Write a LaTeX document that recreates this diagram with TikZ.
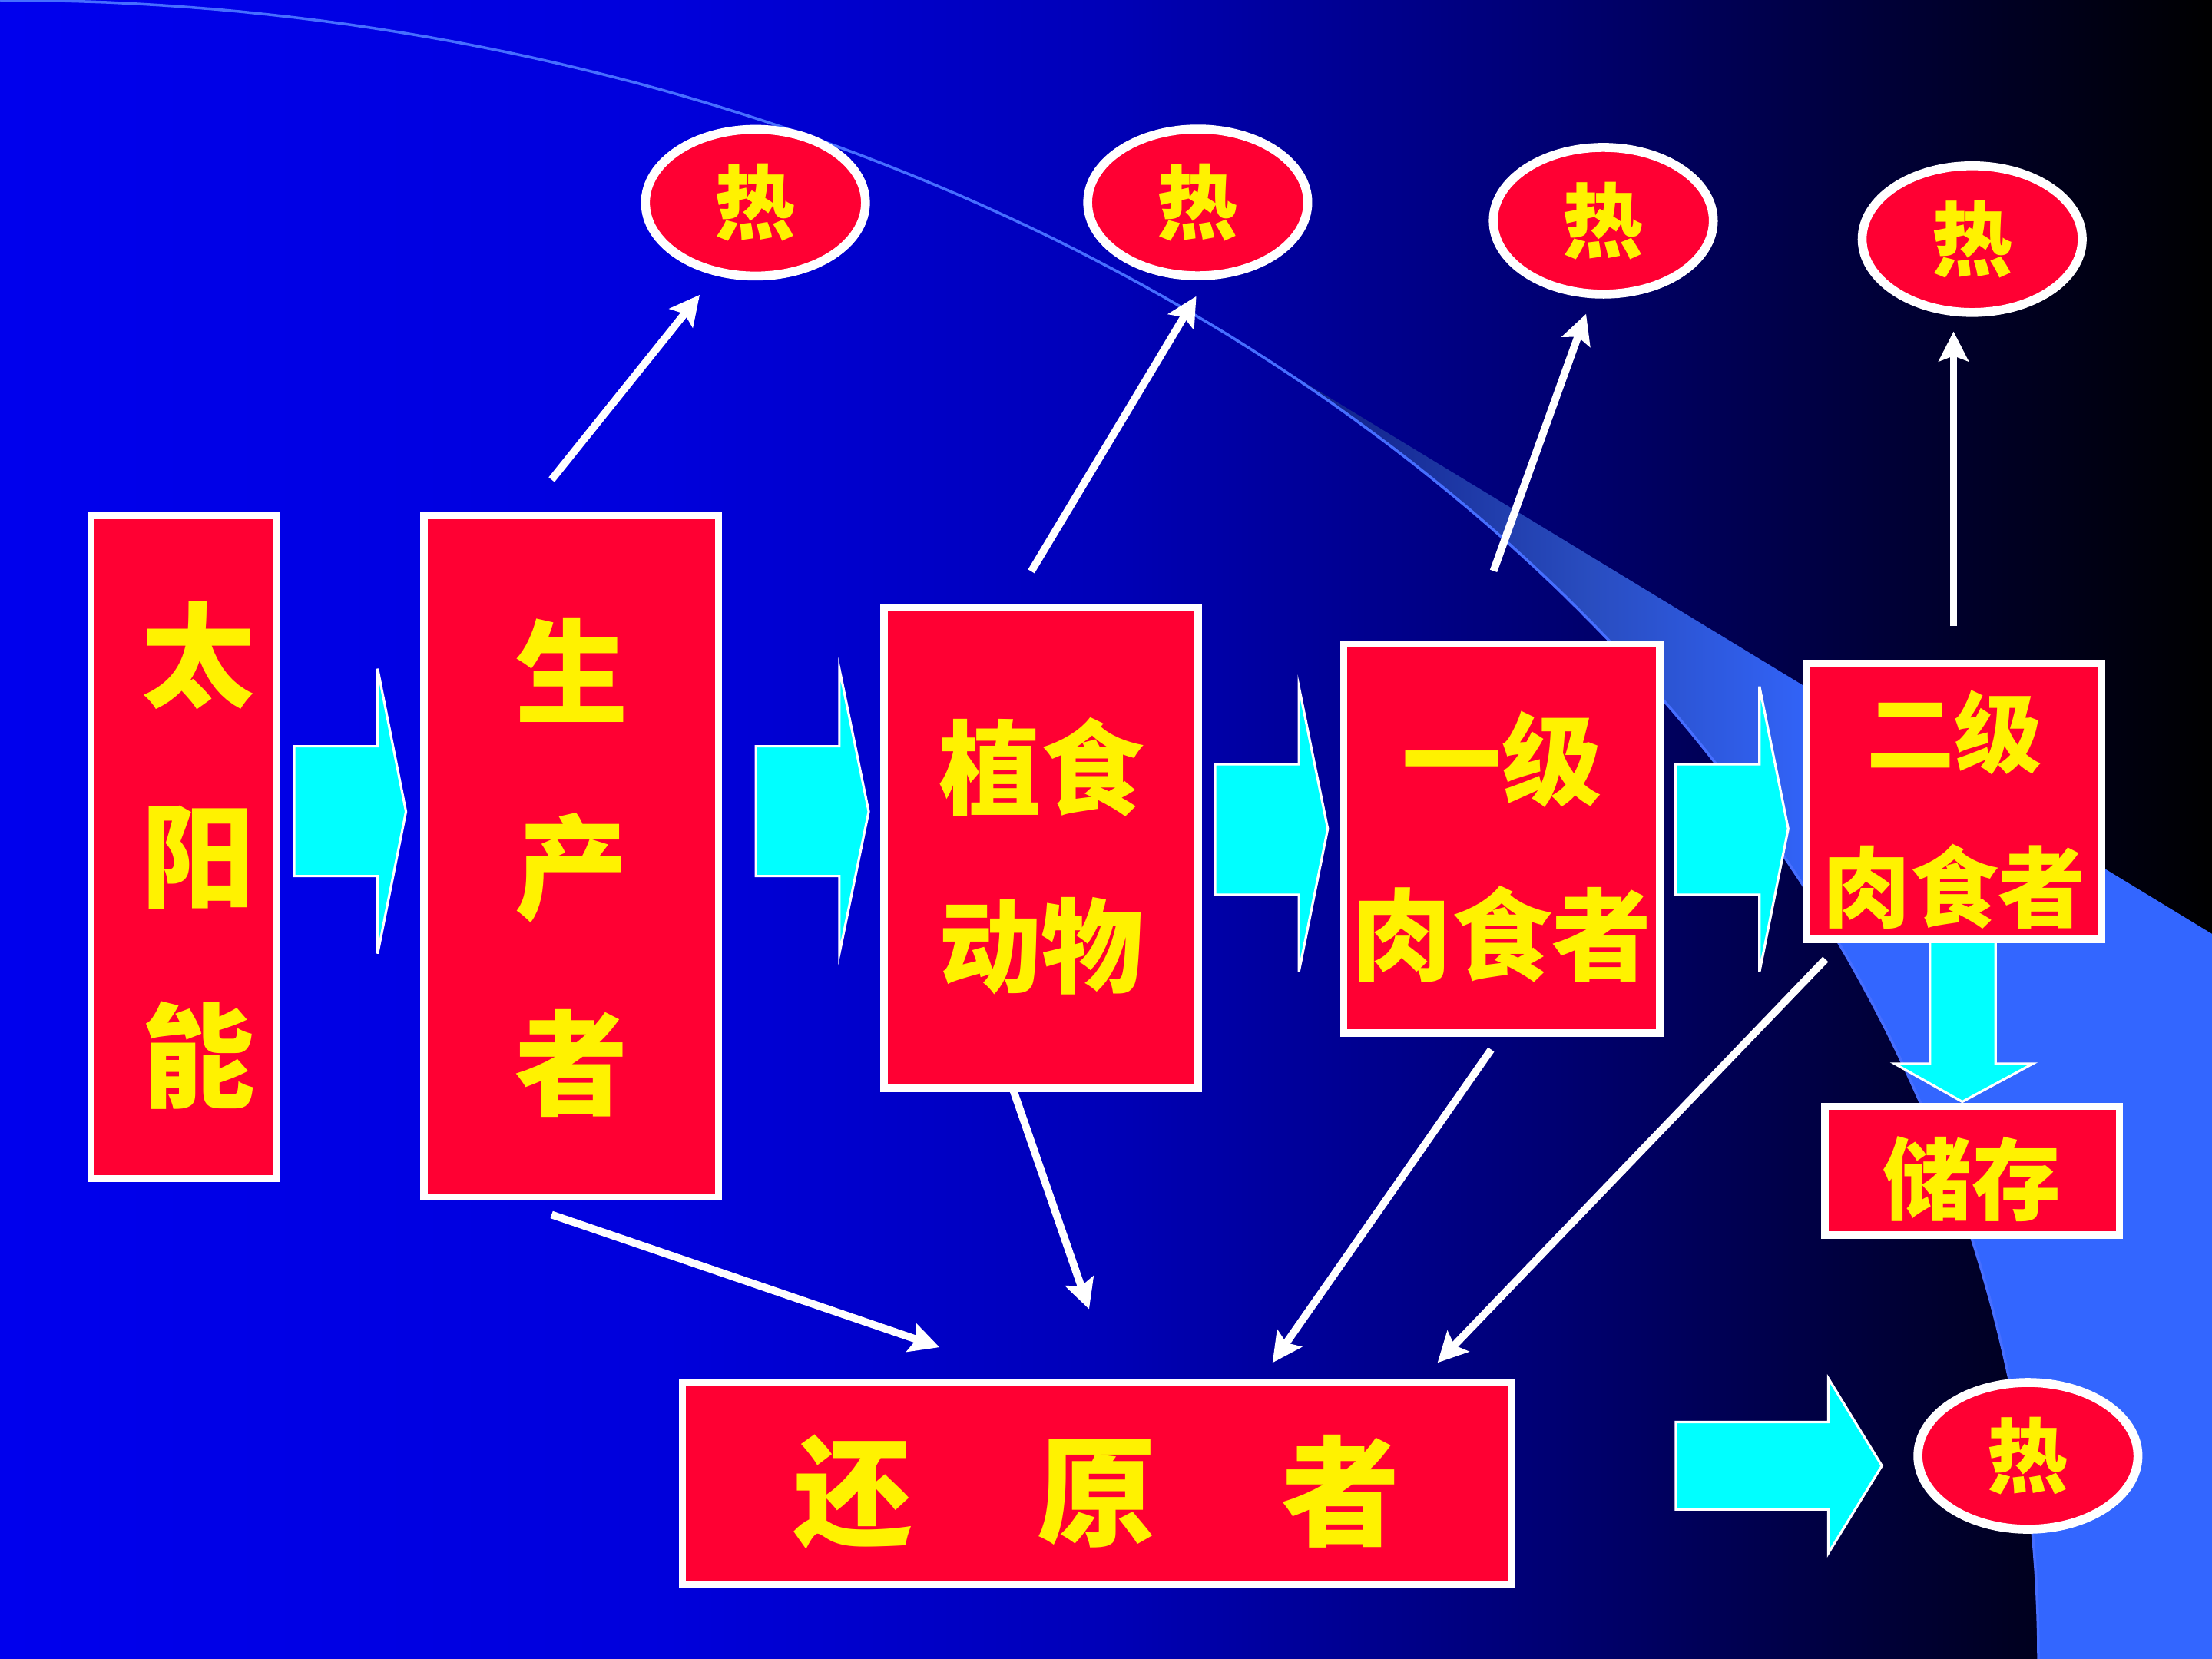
\documentclass[tikz,border=0pt]{standalone}
\usepackage{fontspec}
\newfontfamily\cjk{Noto Sans CJK SC}
\usetikzlibrary{shapes.geometric,arrows.meta}
\newlength\upx \setlength\upx{0.018367cm}
\definecolor{boxred}{RGB}{255,0,51}
\definecolor{arrowcyan}{RGB}{0,255,255}
\definecolor{lightline}{RGB}{70,110,255}
\pgfdeclarehorizontalshading{bgshade}{100bp}{rgb(0bp)=(0,0,0.93); rgb(25bp)=(0,0,0.93); rgb(40bp)=(0,0,0.86); rgb(50bp)=(0,0,0.72); rgb(60bp)=(0,0,0.45); rgb(67.5bp)=(0,0,0.22); rgb(75bp)=(0,0,0); rgb(100bp)=(0,0,0)}
\pgfdeclarehorizontalshading{lightshade}{100bp}{rgb(0bp)=(0.05,0.1,0.5); rgb(25bp)=(0.05,0.1,0.5); rgb(42bp)=(0.16,0.3,0.75); rgb(55bp)=(0.2,0.4,1); rgb(100bp)=(0.2,0.4,1)}
\begin{document}
\begin{tikzpicture}[x=0.018367cm,y=-0.018367cm,
  box/.style={draw=white, line width=2.7pt, fill=boxred, inner sep=0pt},
  lbl/.style={text=yellow, align=center, inner sep=0pt, yshift=-3.1pt},
  heat/.style={ellipse, draw=white, line width=3.3pt, fill=boxred, text=yellow, inner sep=0pt,
    minimum width=156\upx, minimum height=104\upx, font=\cjk\bfseries\fontsize{30pt}{30pt}\selectfont},
  blockarrow/.style={fill=arrowcyan, draw=white, line width=0.9pt, line join=miter},
  flow/.style={draw=white, line width=2.8pt, -{Stealth[length=11pt,width=11pt,inset=2pt]}}]
\useasboundingbox (0,0) rectangle (1568,1176);
\shade[shading=bgshade] (0,0) rectangle (1568,1176);
\shade[shading=lightshade] plot[domain=51.5:0,samples=80] ({1445*cos(\x)},{1176-1176*sin(\x)}) -- (1568,1176) -- (1568,662) -- cycle;
\draw[lightline, line width=1pt] plot[domain=90:0,samples=120] ({1445*cos(\x)},{1176-1176*sin(\x)});

% block arrows
\path[blockarrow] (208.5,529) -- (267.7,529) -- (267.7,474) -- (287.8,575.3) -- (267.7,676) -- (267.7,621) -- (208.5,621) -- cycle;
\path[blockarrow] (535.8,529) -- (595,529) -- (595,474) -- (615.8,575.3) -- (595,676) -- (595,621) -- (535.8,621) -- cycle;
\path[blockarrow] (861.3,541.8) -- (920.7,541.8) -- (920.7,486.6) -- (941.2,587.5) -- (920.7,689) -- (920.7,634.3) -- (861.3,634.3) -- cycle;
\path[blockarrow] (1187.8,541.8) -- (1247.2,541.8) -- (1247.2,486.6) -- (1267.6,587.5) -- (1247.2,689) -- (1247.2,634.3) -- (1187.8,634.3) -- cycle;
\path[blockarrow] (1368,660) -- (1414.6,660) -- (1414.6,754) -- (1441,754) -- (1391,781) -- (1343,754) -- (1368,754) -- cycle;
\path[blockarrow] (1188,1008) -- (1296,1008) -- (1296,977) -- (1334,1039) -- (1296,1101) -- (1296,1070) -- (1188,1070) -- cycle;

% boxes
\node[box, minimum width=131.8\upx, minimum height=469.8\upx,
  label={[lbl, xshift=5.2pt, font=\cjk\bfseries\fontsize{42pt}{74pt}\selectfont]center:太\\阳\\能}] (sun) at (130.5,600.5) {};
\node[box, minimum width=208.8\upx, minimum height=482.8\upx,
  label={[lbl, yshift=-1pt, font=\cjk\bfseries\fontsize{42pt}{72.5pt}\selectfont]center:生\\产\\者}] (prod) at (405,607) {};
\node[box, minimum width=222.8\upx, minimum height=340.8\upx,
  label={[lbl, font=\cjk\bfseries\fontsize{38pt}{66pt}\selectfont]center:植食\\动物}] (herb) at (738,601) {};
\node[box, minimum width=223.8\upx, minimum height=275.8\upx,
  label={[lbl, font=\cjk\bfseries\fontsize{37pt}{65pt}\selectfont]center:一级\\肉食者}] (carn1) at (1064.5,594.5) {};
\node[box, minimum width=209.3\upx, minimum height=195.7\upx,
  label={[lbl, font=\cjk\bfseries\fontsize{32.5pt}{57pt}\selectfont]center:二级\\肉食者}] (carn2) at (1385.3,568) {};
\node[box, minimum width=208.8\upx, minimum height=91.3\upx,
  label={[lbl, font=\cjk\bfseries\fontsize{33pt}{33pt}\selectfont]center:储存}] (store) at (1398,829.8) {};
\node[box, minimum width=587.8\upx, minimum height=143.8\upx,
  label={[lbl, font=\cjk\bfseries\fontsize{44pt}{44pt}\selectfont]center:还\hspace{46.4pt}原\hspace{46.4pt}者}] (decomp) at (777.5,1051.5) {};

% heat ellipses
\node[heat] (heat1) at (535.5,143.7) {\raisebox{-2pt}{热}};
\node[heat] (heat2) at (849,143.5) {\raisebox{-2pt}{热}};
\node[heat] (heat3) at (1136.5,156.5) {\raisebox{-2pt}{热}};
\node[heat] (heat4) at (1398,169.5) {\raisebox{-2pt}{热}};
\node[heat] (heat5) at (1437.5,1032) {\raisebox{-2pt}{热}};

% connector end points
\coordinate (prod-up) at (391,340);   \coordinate (heat1-in) at (496,209);
\coordinate (herb-up) at (731,405);   \coordinate (heat2-in) at (848,210);
\coordinate (carn1-up) at (1058.7,404.7); \coordinate (heat3-in) at (1124.3,222.5);
\coordinate (carn2-up) at (1384.8,443.5); \coordinate (heat4-in) at (1384.8,235);
\coordinate (prod-down) at (391,861);  \coordinate (decomp-in1) at (666,955);
\coordinate (herb-down) at (718,772);  \coordinate (decomp-in2) at (772,928);
\coordinate (carn1-down) at (1057,744); \coordinate (decomp-in3) at (902,966);
\coordinate (carn2-down) at (1294,680); \coordinate (decomp-in4) at (1019,966);

\draw[flow] (prod-up) -- (heat1-in);
\draw[flow] (herb-up) -- (heat2-in);
\draw[flow] (carn1-up) -- (heat3-in);
\draw[flow] (carn2-up) -- (heat4-in);
\draw[flow] (prod-down) -- (decomp-in1);
\draw[flow] (herb-down) -- (decomp-in2);
\draw[flow] (carn1-down) -- (decomp-in3);
\draw[flow] (carn2-down) -- (decomp-in4);
\end{tikzpicture}
\end{document}
